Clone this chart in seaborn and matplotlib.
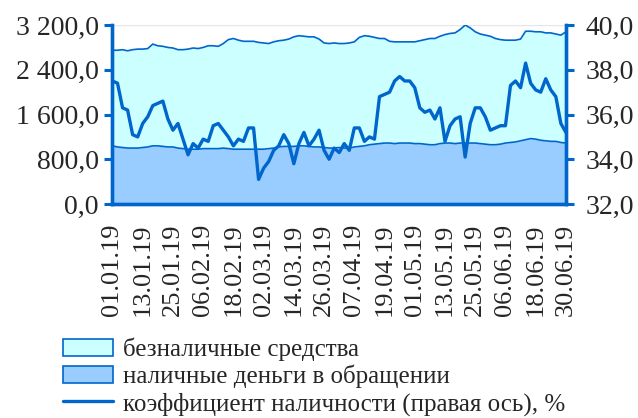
import pandas as pd
import matplotlib
matplotlib.use("Agg")
import matplotlib.pyplot as plt
import matplotlib.dates as mdates
from matplotlib.ticker import FuncFormatter, MultipleLocator
from matplotlib.patches import Patch
from matplotlib.lines import Line2D
import seaborn as sns

# Dates: every second day, 01.01.2019 - 30.06.2019
dates = pd.date_range("2019-01-01", "2019-06-30", freq="2D")

# наличные деньги в обращении, млрд
cash = [
    1040, 1020, 1010, 1000, 1000, 1000, 1010, 1020, 1040, 1040,
    1030, 1020, 1020, 1000, 990, 980, 980, 980, 990, 990,
    990, 990, 1000, 990, 980, 980, 980, 980, 980, 980,
    980, 990, 1000, 1020, 1030, 1030, 1030, 1040, 1040, 1030,
    1020, 1020, 1010, 1000, 1000, 1010, 1000, 1000, 1020, 1030,
    1040, 1060, 1070, 1080, 1090, 1090, 1080, 1090, 1090, 1090,
    1080, 1080, 1070, 1060, 1060, 1080, 1090, 1090, 1080, 1090,
    1090, 1090, 1090, 1080, 1070, 1060, 1060, 1070, 1090, 1100,
    1110, 1130, 1150, 1170, 1160, 1140, 1130, 1120, 1120, 1100,
    1090,
]

# безналичные средства, млрд
noncash = [
    1710, 1730, 1750, 1740, 1760, 1770, 1760, 1760, 1820, 1790,
    1790, 1780, 1770, 1760, 1770, 1790, 1810, 1800, 1810, 1840,
    1840, 1830, 1870, 1950, 1980, 1950, 1930, 1930, 1930, 1910,
    1900, 1880, 1900, 1900, 1900, 1920, 1960, 1970, 1960, 1960,
    1970, 1930, 1870, 1870, 1880, 1860, 1870, 1880, 1880, 1950,
    1970, 1940, 1910, 1880, 1870, 1820, 1820, 1810, 1810, 1810,
    1820, 1840, 1870, 1900, 1900, 1920, 1940, 1960, 1980, 2030,
    2110, 2060, 1990, 1960, 1950, 1940, 1900, 1870, 1840, 1830,
    1820, 1820, 1940, 1920, 1920, 1940, 1930, 1940, 1920, 1920,
    1990,
]

# коэффициент наличности, %
ratio = [
    37.5, 37.4, 36.3, 36.2, 35.1, 35.0, 35.6, 35.9, 36.4, 36.5,
    36.6, 35.8, 35.3, 35.6, 34.9, 34.2, 34.7, 34.5, 34.9, 34.8,
    35.5, 35.6, 35.3, 35.0, 34.6, 34.9, 34.8, 35.4, 35.4, 33.1,
    33.6, 33.9, 34.4, 34.6, 35.1, 34.7, 33.8, 34.7, 35.2, 34.6,
    34.9, 35.3, 34.4, 34.0, 34.5, 34.3, 34.7, 34.4, 35.4, 35.4,
    34.8, 35.0, 34.9, 36.8, 36.9, 37.0, 37.5, 37.7, 37.5, 37.5,
    37.2, 36.3, 36.1, 36.2, 35.8, 36.3, 34.8, 35.5, 35.8, 35.9,
    34.1, 35.6, 36.3, 36.3, 35.9, 35.3, 35.4, 35.5, 35.5, 37.3,
    37.5, 37.2, 38.3, 37.4, 37.1, 37.0, 37.6, 37.1, 36.8, 35.6,
    35.2,
]

labels = [
    "безналичные средства",
    "наличные деньги в обращении",
    "коэффициент наличности (правая ось), %",
]

BLUE = "#0066CC"
LIGHT = "#CCFFFF"
DARK = "#99CCFF"


def fmt_num(v, pos):
    s = f"{v:,.1f}".replace(",", " ").replace(".", ",")
    return s


df = pd.DataFrame({"date": dates, "cash": cash, "noncash": noncash, "ratio": ratio})
df["top"] = df["cash"] + df["noncash"]

sns.set_style("white")
plt.rcParams["font.family"] = ["Liberation Serif", "DejaVu Serif"]

fig = plt.figure(figsize=(6.38, 4.18), dpi=100)
ax = fig.add_axes([0.1763, 0.512, 0.7107, 0.428])

ax.fill_between(df["date"], 0, df["cash"], color=DARK, lw=0, zorder=2)
ax.fill_between(df["date"], df["cash"], df["top"], color=LIGHT, lw=0, zorder=2)
sns.lineplot(data=df, x="date", y="cash", ax=ax, color=BLUE, lw=1.2, zorder=3)
sns.lineplot(data=df, x="date", y="top", ax=ax, color=BLUE, lw=1.2, zorder=3)

ax.set_ylim(0, 3200)
ax.set_xlim(dates[0], dates[-1])
ax.yaxis.set_major_locator(MultipleLocator(800))
ax.yaxis.set_major_formatter(FuncFormatter(fmt_num))
ax.grid(axis="y", color="#e6e6e6", lw=1, zorder=0)
ax.set_axisbelow(True)

ticks = pd.date_range("2019-01-01", "2019-06-30", freq="12D")
ax.set_xticks(ticks)
ax.xaxis.set_major_formatter(mdates.DateFormatter("%d.%m.%y"))
ax.tick_params(axis="x", rotation=90, labelsize=19, direction="out",
               length=6, width=2.2, color=BLUE, pad=8)
ax.tick_params(axis="y", labelsize=20, direction="out", length=6,
               width=2.2, color=BLUE, pad=4)
ax.set_xlabel("")
ax.set_ylabel("")

ax2 = ax.twinx()
sns.lineplot(data=df, x="date", y="ratio", ax=ax2, color=BLUE, lw=2.4)
ax2.set_ylim(32, 40)
ax2.yaxis.set_major_locator(MultipleLocator(2))
ax2.yaxis.set_major_formatter(FuncFormatter(fmt_num))
ax2.tick_params(axis="y", labelsize=20, direction="out", length=6,
                width=2.2, color=BLUE, pad=8)
ax2.set_ylabel("")
ax2.set_xlim(dates[0], dates[-1])

for a in (ax, ax2):
    a.spines["top"].set_visible(False)
    for side in ("left", "right", "bottom"):
        a.spines[side].set_color(BLUE)
        a.spines[side].set_linewidth(2.4)

handles = [
    Patch(facecolor=LIGHT, edgecolor=BLUE, lw=1.2),
    Patch(facecolor=DARK, edgecolor=BLUE, lw=1.2),
    Line2D([0], [0], color=BLUE, lw=2.4),
]
fig.legend(handles, labels, loc="upper left", bbox_to_anchor=(0.098, 0.192),
           frameon=False, fontsize=18, handlelength=2.0, handleheight=0.7,
           handletextpad=0.4, labelspacing=0.15, borderpad=0, borderaxespad=0)

fig.savefig("out.png", dpi=100)
